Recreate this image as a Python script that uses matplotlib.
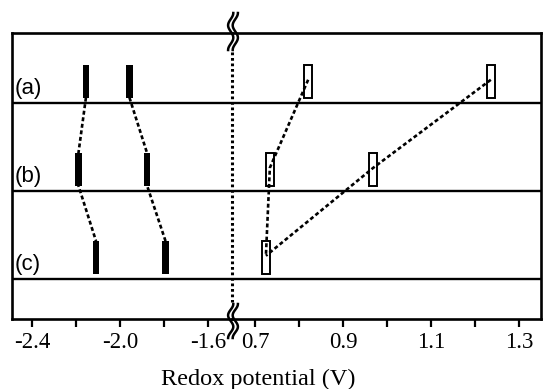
import matplotlib
matplotlib.use("Agg")
import matplotlib.pyplot as plt
import matplotlib.transforms as mtransforms
from matplotlib.lines import Line2D
import numpy as np

# ---------------- data ----------------
row_names = ["(a)", "(b)", "(c)"]
row_levels = [2, 1, 0]

# reduction potentials (filled bars), one list per row
neg_a = [-2.155, -1.957]
neg_b = [-2.189, -1.877]
neg_c = [-2.109, -1.793]
# oxidation potentials (open bars), one list per row
pos_a = [0.820, 1.235]
pos_b = [0.733, 0.968]
pos_c = [0.724]

# which bar in the next row each bar links to
neg_links = [[0, 0, 0], [1, 1, 1]]
pos_links = [[0, 0, 0], [1, 1, 0]]

left_major = [-2.4, -2.0, -1.6]
left_minor = [-2.2, -1.8]
left_labels = ["-2.4", "-2.0", "-1.6"]
right_major = [0.7, 0.9, 1.1, 1.3]
right_minor = [0.8, 1.0, 1.2]
right_labels = ["0.7", "0.9", "1.1", "1.3"]
xlabel = "Redox potential (V)"

# ---------------- layout ----------------
W, H = 543, 389
fig = plt.figure(figsize=(W / 100, H / 100), dpi=100)
serif = "Liberation Serif"
sans = "Liberation Sans"

ax_top, ax_bot = 33, 319
xl0, xbrk, xr1 = 12, 232, 541
axL = fig.add_axes([xl0 / W, 1 - ax_bot / H, (xbrk - xl0) / W, (ax_bot - ax_top) / H])
axR = fig.add_axes([xbrk / W, 1 - ax_bot / H, (xr1 - xbrk) / W, (ax_bot - ax_top) / H])

axL.set_xlim(-2.491, -1.491)
axR.set_xlim(0.647, 1.349)
for ax in (axL, axR):
    ax.set_ylim(-0.455, 2.795)
    ax.set_yticks([])
    ax.patch.set_alpha(0)
    for s in ax.spines.values():
        s.set_linewidth(1.9)
axL.spines["right"].set_visible(False)
axR.spines["left"].set_visible(False)

axL.set_xticks(left_major)
axL.set_xticks(left_minor, minor=True)
axL.set_xticklabels(left_labels, fontfamily=serif, fontsize=16.5)
axR.set_xticks(right_major)
axR.set_xticks(right_minor, minor=True)
axR.set_xticklabels(right_labels, fontfamily=serif, fontsize=16.5)
for ax in (axL, axR):
    ax.tick_params(axis="x", which="both", direction="out", length=6, width=1.6, pad=3)

# baselines of each row
for ax in (axL, axR):
    for lv in row_levels:
        ax.axhline(lv, color="black", lw=1.7, zorder=1)

bar_bottom, bar_h = 0.06, 0.37
neg_rows = [neg_a, neg_b, neg_c]
pos_rows = [pos_a, pos_b, pos_c]

for vals, lv in zip(neg_rows, row_levels):
    axL.bar(vals, bar_h, bottom=lv + bar_bottom, width=0.03, color="black", zorder=2)
for vals, lv in zip(pos_rows, row_levels):
    axR.bar(vals, bar_h, bottom=lv + bar_bottom, width=0.018, facecolor="white",
            edgecolor="black", linewidth=1.4, zorder=2)

dot = (0, (1.5, 1.0))
# links between filled bars: bottom of upper bar to top of lower bar
for link in neg_links:
    xs, ys = [], []
    for r, (vals, lv) in enumerate(zip(neg_rows, row_levels)):
        x = vals[link[r]]
        if r > 0:
            xs.append(x); ys.append(lv + bar_bottom + bar_h)
        if r < len(neg_rows) - 1:
            xs.append(x); ys.append(lv + bar_bottom)
    axL.plot(xs, ys, color="black", lw=1.9, ls=dot, zorder=1.5)

# links between open bars through their middles
for link in pos_links:
    xs = [vals[link[r]] for r, vals in enumerate(pos_rows)]
    ys = [lv + bar_bottom + bar_h * 0.55 for lv in row_levels]
    axR.plot(xs, ys, color="black", lw=1.9, ls=dot, zorder=3)

# row labels
trans = mtransforms.blended_transform_factory(axL.transAxes, axL.transData)
for name, lv in zip(row_names, row_levels):
    axL.text(0.012, lv + 0.05, name, transform=trans, fontfamily=sans, fontsize=16,
             ha="left", va="bottom")

# axis break: dotted vertical line and squiggles
fig.add_artist(Line2D([xbrk / W, xbrk / W], [1 - 52 / H, 1 - 302 / H],
                      transform=fig.transFigure, color="black", lw=2.2, ls=(0, (0.9, 0.9))))

def squiggle(y0, y1, xc):
    t = np.linspace(0, 1, 80)
    for dx in (-2.3, 2.3):
        xs = (xc + dx + 2.6 * np.cos(3 * np.pi * t)) / W
        ys = 1 - (y0 + (y1 - y0) * t) / H
        fig.add_artist(Line2D(xs, ys, transform=fig.transFigure, color="black", lw=1.8))

squiggle(13, 50, 233)
squiggle(304, 338, 233)

fig.text(258 / W, 1 - 385 / H, xlabel, fontfamily=serif, fontsize=17.5,
         ha="center", va="baseline")

fig.savefig("out.png", dpi=100)
